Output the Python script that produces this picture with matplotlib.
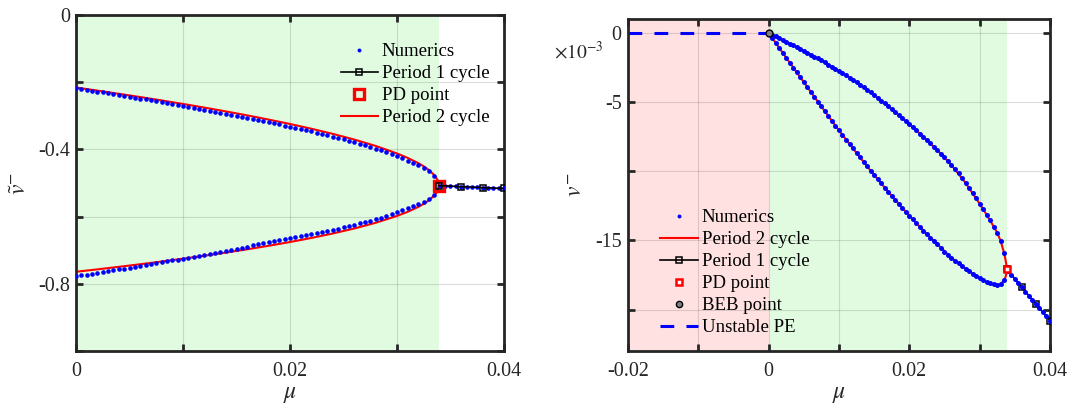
import numpy as np
import matplotlib
matplotlib.use('Agg')
import matplotlib.pyplot as plt
from matplotlib.lines import Line2D

plt.rcParams['font.family'] = ['Liberation Serif', 'DejaVu Serif']
plt.rcParams['mathtext.fontset'] = 'stix'

# ---- data (mu in units of 1e-3) ----
mu_pd = 33.9

# numerics sample points on the period-2 branches
num_mu = [0, 0.5, 1, 1.5, 2, 2.5, 3, 3.5, 4, 4.5, 5, 5.5, 6, 6.5, 7, 7.5, 8, 8.5,
          9, 9.5, 10, 10.5, 11, 11.5, 12, 12.5, 13, 13.5, 14, 14.5, 15, 15.5, 16,
          16.5, 17, 17.5, 18, 18.5, 19, 19.5, 20, 20.5, 21, 21.5, 22, 22.5, 23,
          23.5, 24, 24.5, 25, 25.5, 26, 26.5, 27, 27.5, 28, 28.5, 29, 29.5, 30,
          30.5, 31, 31.5, 32, 32.5, 33, 33.5]
# numerics after the PD point (single branch)
tail_mu = [34, 34.5, 35, 35.5, 36, 36.5, 37, 37.5, 38, 38.5, 39, 39.5, 40]

# left panel: v tilde
num_up_l = [-0.2178, -0.2203, -0.2227, -0.2253, -0.2278, -0.2304, -0.2329, -0.2355,
            -0.2381, -0.2407, -0.2433, -0.2460, -0.2486, -0.2514, -0.2540, -0.2568,
            -0.2595, -0.2623, -0.2651, -0.2679, -0.2707, -0.2736, -0.2765, -0.2795,
            -0.2824, -0.2854, -0.2884, -0.2915, -0.2945, -0.2976, -0.3007, -0.3038,
            -0.3067, -0.3098, -0.3129, -0.3161, -0.3192, -0.3225, -0.3257, -0.3291,
            -0.3324, -0.3359, -0.3393, -0.3429, -0.3465, -0.3502, -0.3540, -0.3579,
            -0.3618, -0.3658, -0.3700, -0.3742, -0.3786, -0.3832, -0.3878, -0.3926,
            -0.3976, -0.4028, -0.4082, -0.4140, -0.4200, -0.4265, -0.4333, -0.4394,
            -0.4463, -0.4546, -0.4643, -0.4780]
num_lo_l = [-0.7772, -0.7748, -0.7724, -0.7699, -0.7673, -0.7648, -0.7623, -0.7598,
            -0.7572, -0.7547, -0.7520, -0.7494, -0.7468, -0.7441, -0.7415, -0.7388,
            -0.7360, -0.7333, -0.7305, -0.7278, -0.7250, -0.7221, -0.7192, -0.7163,
            -0.7134, -0.7105, -0.7075, -0.7045, -0.7014, -0.6984, -0.6953, -0.6921,
            -0.6890, -0.6858, -0.6824, -0.6791, -0.6758, -0.6731, -0.6703, -0.6675,
            -0.6646, -0.6617, -0.6587, -0.6557, -0.6525, -0.6493, -0.6460, -0.6427,
            -0.6392, -0.6357, -0.6320, -0.6283, -0.6244, -0.6204, -0.6162, -0.6120,
            -0.6074, -0.6028, -0.5978, -0.5926, -0.5870, -0.5811, -0.5747, -0.5698,
            -0.5639, -0.5570, -0.5482, -0.5356]
tail_l = [-0.5082, -0.5088, -0.5095, -0.5101, -0.5108, -0.5115, -0.5122, -0.5128,
          -0.5135, -0.5142, -0.5148, -0.5155, -0.5162]

p2_mu = [0, 2, 4, 6, 8, 10, 12, 14, 16, 18, 20, 22, 24, 26, 28, 30, 31, 32, 32.5,
         33, 33.5, 33.7, 33.8, 33.9]
p2_up_l = [-0.2158, -0.2250, -0.2345, -0.2442, -0.2543, -0.2647, -0.2756, -0.2869,
           -0.2987, -0.3112, -0.3244, -0.3385, -0.3538, -0.3706, -0.3896, -0.4120,
           -0.4253, -0.4411, -0.4505, -0.4618, -0.4770, -0.4860, -0.4920, -0.5070]
p2_lo_l = [-0.7642, -0.7570, -0.7495, -0.7418, -0.7337, -0.7253, -0.7164, -0.7071,
           -0.6973, -0.6868, -0.6756, -0.6635, -0.6502, -0.6354, -0.6184, -0.5980,
           -0.5857, -0.5709, -0.5620, -0.5512, -0.5366, -0.5280, -0.5218, -0.5070]

p1_mu = [33.9, 36, 38, 40]
p1_l = [-0.5075, -0.5108, -0.5135, -0.5162]
pd_l = -0.5075

# right panel: v (units of 1e-3)
num_up_r = [0, -0.12, -0.25, -0.38, -0.51, -0.64, -0.77, -0.90, -1.03, -1.16, -1.30,
            -1.43, -1.57, -1.71, -1.85, -1.99, -2.14, -2.29, -2.44, -2.59, -2.75,
            -2.91, -3.07, -3.23, -3.40, -3.57, -3.75, -3.93, -4.12, -4.31, -4.50,
            -4.70, -4.90, -5.10, -5.31, -5.52, -5.73, -5.94, -6.16, -6.38, -6.60,
            -6.82, -7.05, -7.28, -7.51, -7.75, -7.99, -8.24, -8.49, -8.75, -9.01,
            -9.28, -9.56, -9.85, -10.15, -10.48, -10.85, -11.22, -11.60, -11.97,
            -12.35, -12.74, -13.15, -13.56, -14.00, -14.45, -15.05, -15.95]
num_lo_r = [0, -0.36, -0.72, -1.08, -1.44, -1.80, -2.15, -2.51, -2.86, -3.22, -3.57,
            -3.92, -4.27, -4.62, -4.97, -5.32, -5.67, -6.02, -6.36, -6.71, -7.05,
            -7.38, -7.71, -8.04, -8.36, -8.69, -9.01, -9.33, -9.65, -9.97, -10.28,
            -10.59, -10.89, -11.19, -11.49, -11.79, -12.08, -12.37, -12.66, -12.94,
            -13.22, -13.49, -13.76, -14.03, -14.29, -14.55, -14.80, -15.05, -15.29,
            -15.56, -15.82, -16.04, -16.26, -16.46, -16.66, -16.86, -17.05, -17.24,
            -17.42, -17.58, -17.74, -17.88, -18.00, -18.10, -18.18, -18.20, -18.12,
            -17.85]
tail_r = [-17.2, -17.5, -17.8, -18.1, -18.4, -18.7, -19.0, -19.3, -19.6, -19.9,
          -20.2, -20.5, -20.8]

p2_up_r = [0, -0.51, -1.03, -1.57, -2.14, -2.75, -3.40, -4.12, -4.90, -5.73, -6.60,
           -7.51, -8.49, -9.56, -10.85, -12.35, -13.15, -14.00, -14.45, -15.05,
           -15.95, -16.45, -16.75, -17.1]
p2_lo_r = [0, -1.44, -2.86, -4.27, -5.67, -7.05, -8.36, -9.65, -10.89, -12.08,
           -13.22, -14.29, -15.29, -16.26, -17.05, -17.74, -18.02, -18.22, -18.24,
           -18.15, -17.88, -17.62, -17.42, -17.1]

p1_r = [-17.1, -18.4, -19.6, -20.8]
pd_r = -17.1
beb_mu, beb_r = 0, 0
upe_mu = [-20, 0]
upe_r = [0, 0]

GREEN = '#e1fbe1'
PINK = '#ffe1e1'
DARK = '#262626'


def m(vals):
    return np.array(vals) * 1e-3


def style_axes(ax):
    for s in ax.spines.values():
        s.set_linewidth(2.0)
        s.set_color(DARK)
    ax.tick_params(direction='in', length=5, width=2, top=True, right=True,
                   labelsize=14.4, colors=DARK, pad=4.5)
    ax.tick_params(axis='x', pad=8)
    ax.grid(True, color='k', alpha=0.13, linewidth=0.8)
    ax.set_axisbelow(True)


fig = plt.figure(figsize=(10.68, 4.09), dpi=100)

# ---------------- left panel ----------------
ax1 = fig.add_axes([0.0712, 0.1418, 0.4007, 0.8215])
ax1.axvspan(0, mu_pd * 1e-3, color=GREEN, zorder=0, lw=0)
ax1.plot(m(p2_mu + p2_mu[::-1]), p2_up_l + p2_lo_l[::-1], color='red', lw=1.5, zorder=2)
ax1.plot(m(num_mu + num_mu + tail_mu), num_up_l + num_lo_l + tail_l, 'o', color='blue',
         ms=3.3, mew=0, zorder=3)
ax1.plot(m([mu_pd]), [pd_l], 's', mfc='none', mec='red', ms=7, mew=2.4, zorder=4)
ax1.plot(m(p1_mu), p1_l, '-s', color='black', mfc='none', ms=5, mew=1.1, lw=1.2, zorder=5)
ax1.set_xlim(0, 0.04)
ax1.set_ylim(-1, 0)
ax1.set_xticks([0, 0.01, 0.02, 0.03, 0.04])
ax1.set_xticklabels(['0', '', '0.02', '', '0.04'])
ax1.set_yticks([-1, -0.8, -0.6, -0.4, -0.2, 0])
ax1.set_yticklabels(['', '-0.8', '', '-0.4', '', '0'])
style_axes(ax1)
ax1.set_xlabel(r'$\mu$', fontsize=17, color=DARK, labelpad=2)
ax1.set_ylabel(r'$\tilde{v}^{-}$', fontsize=17, color=DARK)
ax1.yaxis.set_label_coords(-0.105, 0.5)

h_num = Line2D([], [], ls='none', marker='o', color='blue', ms=2.8, mew=0)
h_p1 = Line2D([], [], color='black', marker='s', mfc='none', ms=5, mew=1.1, lw=1.2)
h_pd1 = Line2D([], [], ls='none', marker='s', mfc='none', mec='red', ms=7, mew=2.4)
h_p2 = Line2D([], [], color='red', lw=1.5)
fig.legend([h_num, h_p1, h_pd1, h_p2],
           ['Numerics', 'Period 1 cycle', 'PD point', 'Period 2 cycle'],
           loc='upper left', bbox_to_anchor=(0.319, 0.895), frameon=False,
           fontsize=13.5, handlelength=2.0, handletextpad=0.2, labelspacing=0.26,
           borderpad=0, borderaxespad=0, numpoints=1)

# ---------------- right panel ----------------
ax2 = fig.add_axes([0.588, 0.1418, 0.3951, 0.8117])
ax2.axvspan(-0.02, 0, color=PINK, zorder=0, lw=0)
ax2.axvspan(0, mu_pd * 1e-3, color=GREEN, zorder=0, lw=0)
ax2.plot(m(upe_mu), upe_r, color='blue', lw=2.2, ls=(0, (4.5, 4)), zorder=2)
ax2.plot(m(p2_mu + p2_mu[::-1]), p2_up_r + p2_lo_r[::-1], color='red', lw=1.5, zorder=2)
ax2.plot(m(p1_mu), p1_r, '-s', color='black', mfc='none', ms=5, mew=1.1, lw=1.2, zorder=3)
ax2.plot(m(num_mu + num_mu + tail_mu), num_up_r + num_lo_r + tail_r, 'o', color='blue',
         ms=3.6, mew=0, zorder=4)
ax2.plot(m([mu_pd]), [pd_r], 's', mfc='white', mec='red', ms=5, mew=1.8, zorder=5)
ax2.plot([beb_mu], [beb_r], 'o', mfc='#808080', mec='black', ms=5, mew=1.0, zorder=5)
ax2.set_xlim(-0.02, 0.04)
ax2.set_ylim(-23, 1)
ax2.set_xticks([-0.02, -0.01, 0, 0.01, 0.02, 0.03, 0.04])
ax2.set_xticklabels(['-0.02', '', '0', '', '0.02', '', '0.04'])
ax2.set_yticks([-20, -15, -10, -5, 0])
ax2.set_yticklabels(['', '-15', '', '-5', '0'])
style_axes(ax2)
ax2.set_xlabel(r'$\mu$', fontsize=17, color=DARK, labelpad=2)
ax2.set_ylabel(r'$v^{-}$', fontsize=17, color=DARK)
ax2.yaxis.set_label_coords(-0.098, 0.5)
fig.text(0.519, 0.875, r'$\times10^{-3}$', fontsize=14, color=DARK, va='center', ha='left')

h_pd2 = Line2D([], [], ls='none', marker='s', mfc='white', mec='red', ms=5, mew=1.8)
h_beb = Line2D([], [], ls='none', marker='o', mfc='#808080', mec='black', ms=4.5, mew=1.0)
h_upe = Line2D([], [], color='blue', lw=2.2, ls=(0, (4.5, 4)))
fig.legend([h_num, h_p2, h_p1, h_pd2, h_beb, h_upe],
           ['Numerics', 'Period 2 cycle', 'Period 1 cycle', 'PD point', 'BEB point',
            'Unstable PE'],
           loc='upper left', bbox_to_anchor=(0.6184, 0.489), frameon=False,
           fontsize=13.5, handlelength=2.0, handletextpad=0.2, labelspacing=0.26,
           borderpad=0, borderaxespad=0, numpoints=1)

fig.savefig('out.png', dpi=100)
